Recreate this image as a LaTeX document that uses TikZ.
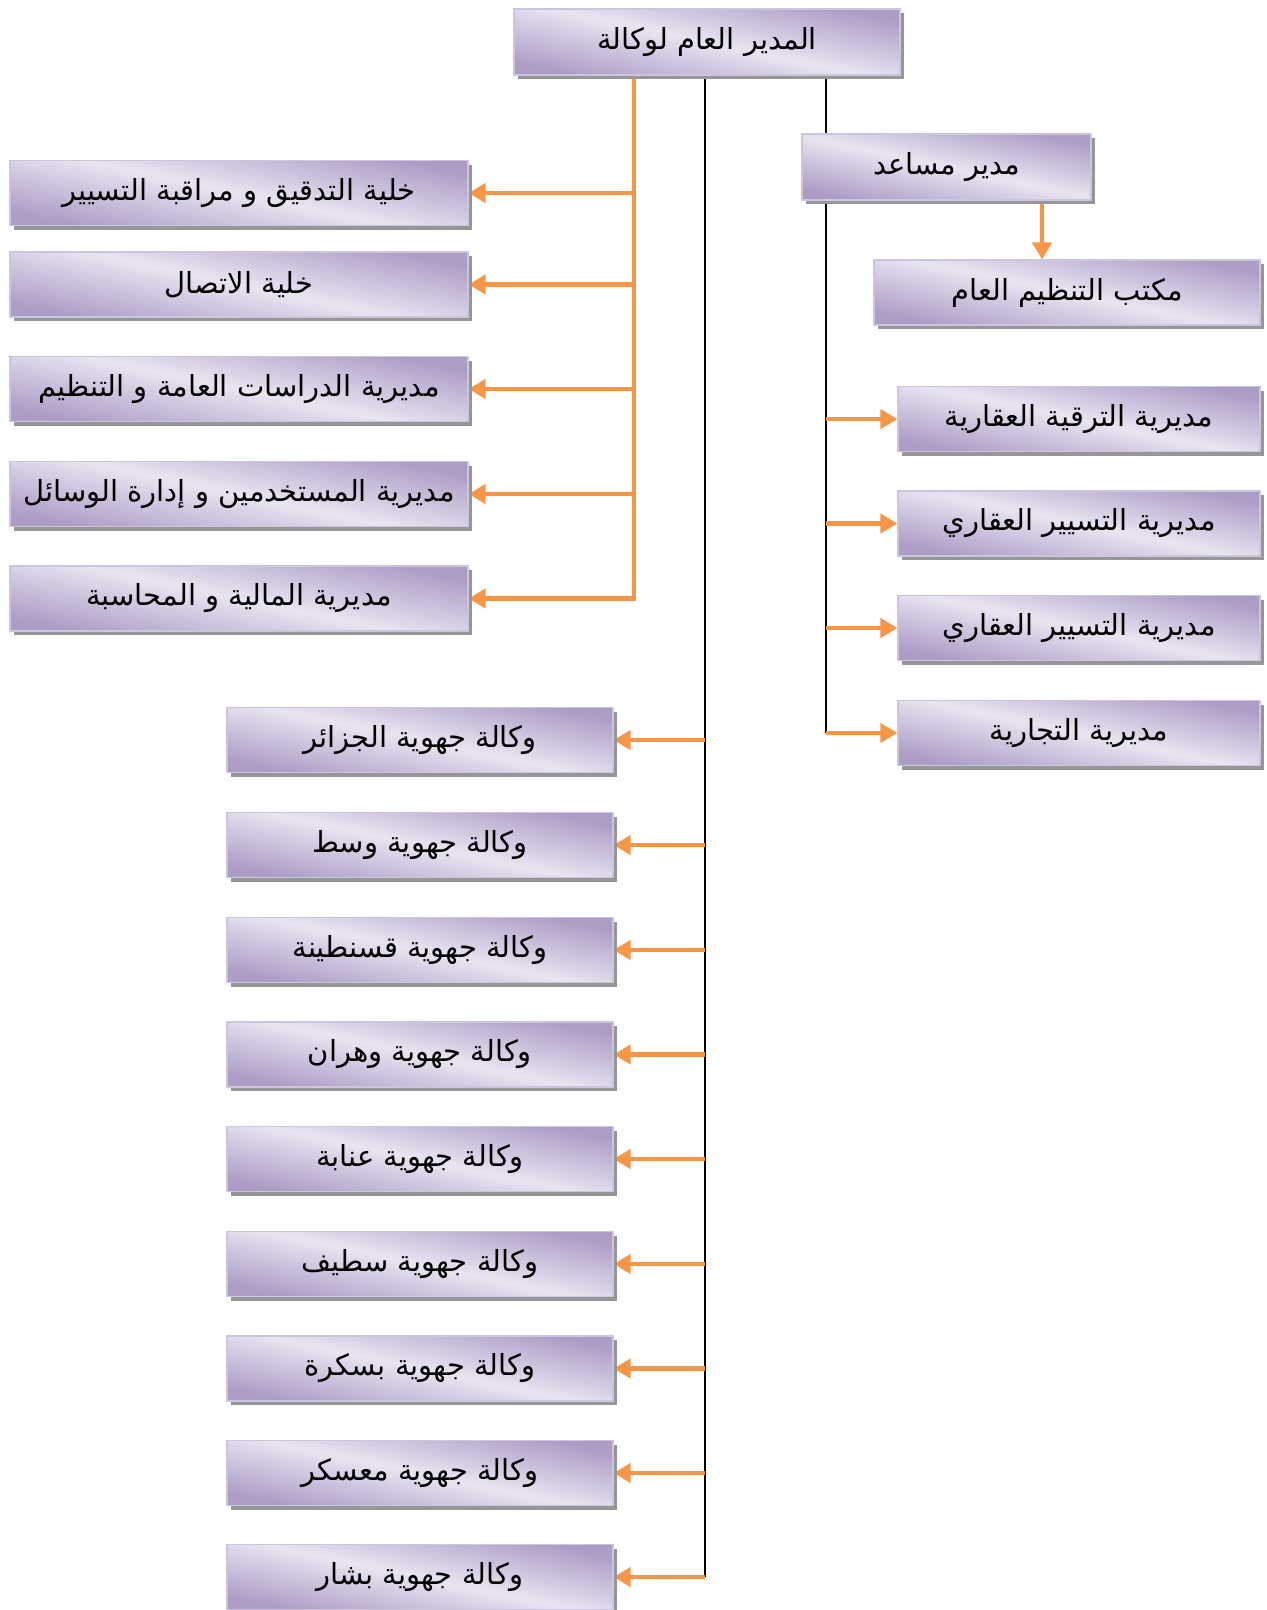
\documentclass[tikz,border=0pt]{standalone}
\usepackage{fontspec}
\newfontfamily\arabicfont[Script=Arabic]{DejaVu Sans}
\TeXXeTstate=1
\usetikzlibrary{arrows.meta,shadows,backgrounds}
\definecolor{boxdark}{RGB}{172,156,198}
\definecolor{boxlight}{RGB}{233,228,241}
\definecolor{boxedge}{RGB}{205,196,222}
\definecolor{orng}{RGB}{247,150,70}
\definecolor{shadowgray}{RGB}{150,150,150}
\newcommand{\artxt}[1]{\beginR #1\endR}
\begin{document}
\begin{tikzpicture}[x=1pt,y=-1pt,
  box/.style={draw=boxedge, line width=1.2pt, shading=axis, top color=boxdark,
    bottom color=boxdark, middle color=boxlight, shading angle=-12,
    minimum height=65pt, inner sep=0pt,
    font=\arabicfont\fontsize{29}{34}\selectfont,
    drop shadow={shadow xshift=4pt, shadow yshift=-4pt, fill=shadowgray, opacity=1}},
  lbox/.style={box, minimum width=458pt},
  wbox/.style={box, minimum width=386pt},
  rbox/.style={box, minimum width=362pt},
  oarrow/.style={draw=orng, line width=4.5pt, -{Triangle[length=17pt,width=19pt]}},
  bline/.style={draw=black, line width=2pt}]
\useasboundingbox (0,0) rectangle (1267,1610);

\node[wbox, minimum height=66pt] (gm) at (707,42) {\artxt{المدير العام لوكالة}};

\node[lbox] (l1) at (239,193) {\artxt{خلية التدقيق و مراقبة التسيير}};
\node[lbox] (l2) at (239,284.5) {\artxt{خلية الاتصال}};
\node[lbox] (l3) at (239,389) {\artxt{مديرية الدراسات العامة و التنظيم}};
\node[lbox] (l4) at (239,494) {\artxt{مديرية المستخدمين و إدارة الوسائل}};
\node[lbox] (l5) at (239,598.5) {\artxt{مديرية المالية و المحاسبة}};

\node[box, minimum width=289pt, minimum height=66pt] (da) at (946.5,167) {\artxt{مدير مساعد}};
\node[wbox] (bo) at (1067,292.5) {\artxt{مكتب التنظيم العام}};

\node[rbox] (r1) at (1079,419) {\artxt{مديرية الترقية العقارية}};
\node[rbox] (r2) at (1079,523.5) {\artxt{مديرية التسيير العقاري}};
\node[rbox] (r3) at (1079,628) {\artxt{مديرية التسيير العقاري}};
\node[rbox] (r4) at (1079,733) {\artxt{مديرية التجارية}};

\node[wbox] (b1) at (420,740) {\artxt{وكالة جهوية الجزائر}};
\node[wbox] (b2) at (420,845) {\artxt{وكالة جهوية وسط}};
\node[wbox] (b3) at (420,950) {\artxt{وكالة جهوية قسنطينة}};
\node[wbox] (b4) at (420,1054.5) {\artxt{وكالة جهوية وهران}};
\node[wbox] (b5) at (420,1159) {\artxt{وكالة جهوية عنابة}};
\node[wbox] (b6) at (420,1264) {\artxt{وكالة جهوية سطيف}};
\node[wbox] (b7) at (420,1368.5) {\artxt{وكالة جهوية بسكرة}};
\node[wbox] (b8) at (420,1473) {\artxt{وكالة جهوية معسكر}};
\node[wbox] (b9) at (420,1577) {\artxt{وكالة جهوية بشار}};

\coordinate (oT) at (634,0);
\coordinate (mT) at (705,0);
\coordinate (rT) at (826,0);
\coordinate (aX) at (1042,0);

\begin{scope}[on background layer]
  % left orange trunk
  \draw[oarrow] (gm.south -| oT) -- (oT |- l5) -- (l5.east);
  \foreach \n in {l1,l2,l3,l4}
    \draw[oarrow] (oT |- \n) -- (\n.east);
  % middle black trunk
  \draw[bline] (gm.south -| mT) -- (mT |- b9);
  \foreach \n in {b1,b2,b3,b4,b5,b6,b7,b8,b9}
    \draw[oarrow] (mT |- \n) -- (\n.east);
  % right black trunk
  \draw[bline] (gm.south -| rT) -- (rT |- r4);
  \foreach \n in {r1,r2,r3,r4}
    \draw[oarrow] (rT |- \n) -- (\n.west);
  % assistant director to bureau
  \draw[oarrow] (aX |- da.south) -- (aX |- bo.north);
\end{scope}
\end{tikzpicture}
\end{document}
